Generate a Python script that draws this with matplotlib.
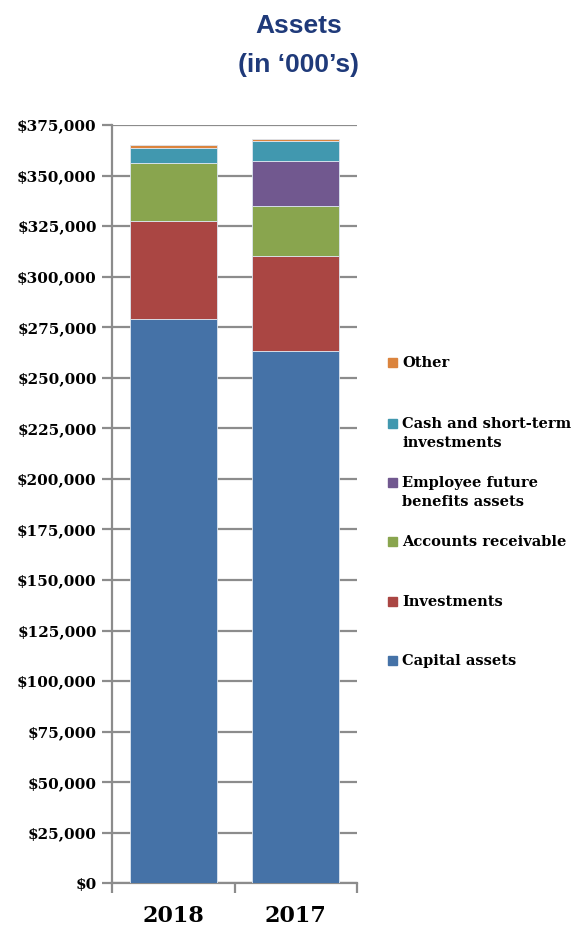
import matplotlib
matplotlib.use("Agg")
import matplotlib.pyplot as plt
from matplotlib.patches import Rectangle
import numpy as np

years = ["2018", "2017"]
series = ["Capital assets", "Investments", "Accounts receivable",
          "Employee future\nbenefits assets", "Cash and short-term\ninvestments", "Other"]
capital = [279000, 263300]
investments = [48500, 47000]
receivable = [28500, 24800]
employee = [0, 21900]
cash = [7700, 9900]
other = [1300, 1200]
values = [capital, investments, receivable, employee, cash, other]
colors = ["#4572A7", "#AA4643", "#89A54E", "#71588F", "#4198AF", "#DB843D"]
yticks = np.arange(0, 375001, 25000)

fig = plt.figure(figsize=(5.79, 9.27), dpi=100)
ax = fig.add_axes([112/579, 1-883.3/927, 245/579, (883.3-125)/927])

x = np.arange(len(years))
bottom = np.zeros(len(years))
for vals, c in zip(values, colors):
    ax.bar(x, vals, 0.71, bottom=bottom, color=c, edgecolor="#dde6f0", linewidth=0.6, zorder=3)
    bottom += np.array(vals)

ax.set_xlim(-0.5, 1.5)
ax.set_ylim(0, 375000)
ax.set_yticks(yticks)
ax.set_yticklabels([f"${v:,.0f}" for v in yticks], family="DejaVu Serif",
                   fontweight="bold", fontsize=11)
ax.yaxis.grid(True, color="#8c8c8c", linewidth=1.6, zorder=0)
ax.tick_params(axis="y", length=7, width=1.6, color="#8c8c8c", pad=4)
ax.set_xticks([-0.5, 0.5, 1.5])
ax.set_xticklabels([])
ax.tick_params(axis="x", length=7, width=1.6, color="#8c8c8c")
for i, yr in enumerate(years):
    ax.text(i, -0.043, yr, transform=ax.get_xaxis_transform(), ha="center", va="center",
            family="DejaVu Serif", fontweight="bold", fontsize=16)
for s in ["top", "right"]:
    ax.spines[s].set_visible(False)
for s in ["left", "bottom"]:
    ax.spines[s].set_color("#8c8c8c")
    ax.spines[s].set_linewidth(1.6)

fig.text(299/579, 1-26/927, "Assets", ha="center", va="center", family="Liberation Sans",
         fontweight="bold", fontsize=19, color="#1F3A7A")
fig.text(299/579, 1-65/927, "(in \u2018000\u2019s)", ha="center", va="center", family="Liberation Sans",
         fontweight="bold", fontsize=19, color="#1F3A7A")

# legend, top to bottom
leg_y = [362, 423, 482, 541, 601, 660]
order = list(range(len(series)))[::-1]
for yy, idx in zip(leg_y, order):
    fig.add_artist(Rectangle(((388)/579, 1-(yy+4.5)/927), 9/579, 9/927,
                             transform=fig.transFigure, color=colors[idx]))
    fig.text(402/579, 1-(yy-6)/927, series[idx], ha="left", va="top", family="DejaVu Serif",
             fontweight="bold", fontsize=10.5, linespacing=1.45)

fig.savefig("out.png", dpi=100)
